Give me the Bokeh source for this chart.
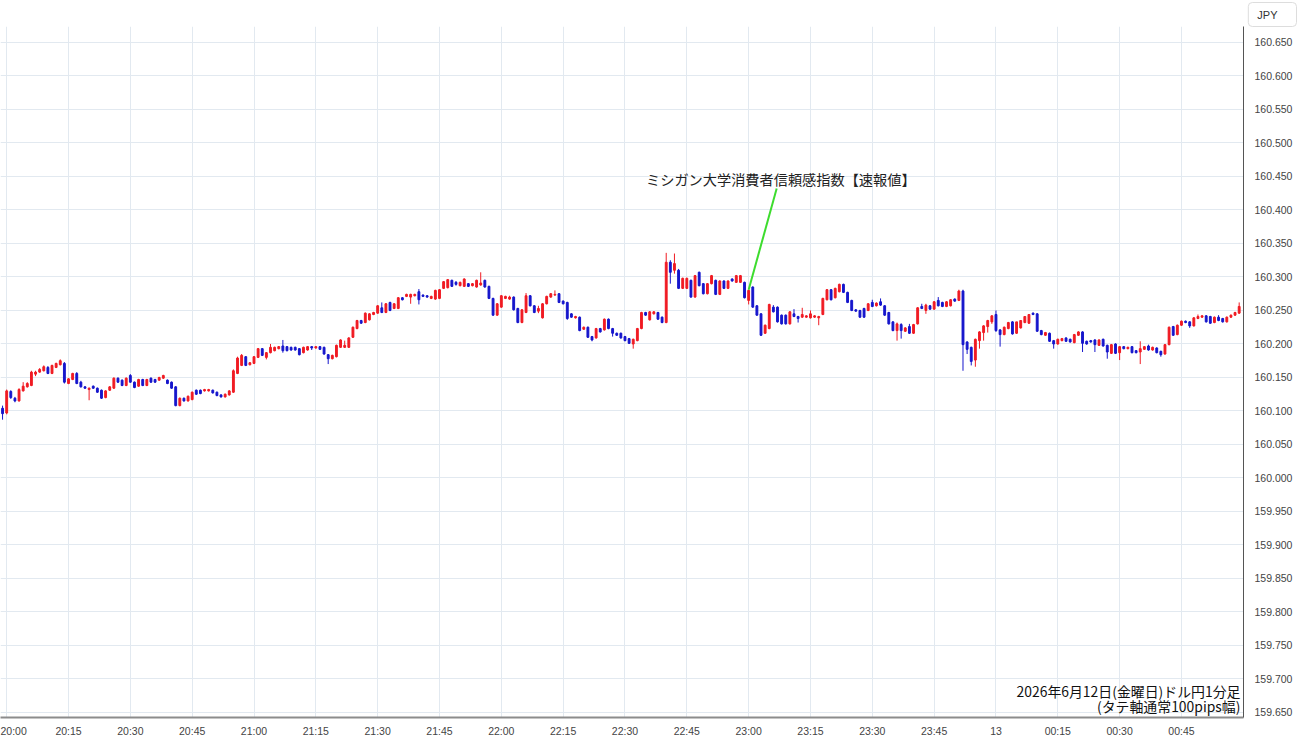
from bokeh.plotting import figure
from bokeh.models import Range1d, FixedTicker, Label, ColumnDataSource, NumeralTickFormatter
from bokeh.embed import file_html
from bokeh.resources import INLINE

# ---- data: USD/JPY 1-minute candles, 2026-06-12 19:59 .. 00:59 (minute index from 20:00) ----
minutes = list(range(-1, 300))

open_ = [
    160.104, 160.097, 160.129, 160.119, 160.115, 160.130, 160.136, 160.138, 160.155, 160.158,
    160.160, 160.165, 160.156, 160.165, 160.169, 160.171, 160.141, 160.147, 160.156, 160.143,
    160.136, 160.132, 160.137, 160.134, 160.131, 160.120, 160.131, 160.134, 160.149, 160.146,
    160.138, 160.153, 160.143, 160.137, 160.147, 160.138, 160.149, 160.147, 160.146, 160.149,
    160.146, 160.143, 160.136, 160.108, 160.119, 160.115, 160.117, 160.131, 160.131, 160.130,
    160.130, 160.131, 160.128, 160.124, 160.121, 160.124, 160.128, 160.156, 160.168, 160.181,
    160.169, 160.171, 160.180, 160.193, 160.180, 160.187, 160.190, 160.193, 160.197, 160.196,
    160.195, 160.195, 160.193, 160.187, 160.191, 160.196, 160.194, 160.196, 160.195, 160.184,
    160.178, 160.181, 160.195, 160.195, 160.195, 160.210, 160.223, 160.235, 160.232, 160.236,
    160.244, 160.246, 160.254, 160.247, 160.262, 160.253, 160.253, 160.269, 160.271, 160.270,
    160.272, 160.278, 160.273, 160.272, 160.268, 160.267, 160.268, 160.283, 160.284, 160.295,
    160.292, 160.287, 160.286, 160.290, 160.287, 160.285, 160.288, 160.295, 160.286, 160.268,
    160.243, 160.255, 160.268, 160.267, 160.270, 160.253, 160.232, 160.247, 160.272, 160.257,
    160.249, 160.239, 160.260, 160.270, 160.273, 160.275, 160.264, 160.262, 160.245, 160.239,
    160.240, 160.222, 160.225, 160.211, 160.209, 160.223, 160.221, 160.237, 160.223, 160.216,
    160.216, 160.211, 160.208, 160.200, 160.205, 160.223, 160.247, 160.236, 160.245, 160.247,
    160.240, 160.232, 160.322, 160.310, 160.310, 160.283, 160.283, 160.295, 160.270, 160.307,
    160.290, 160.275, 160.290, 160.295, 160.274, 160.294, 160.283, 160.297, 160.292, 160.292,
    160.292, 160.265, 160.285, 160.257, 160.245, 160.216, 160.223, 160.255, 160.255, 160.243,
    160.243, 160.230, 160.245, 160.241, 160.240, 160.240, 160.239, 160.240, 160.239, 160.244,
    160.266, 160.281, 160.269, 160.278, 160.289, 160.277, 160.265, 160.251, 160.250, 160.253,
    160.250, 160.262, 160.257, 160.263, 160.257, 160.247, 160.233, 160.220, 160.229, 160.219,
    160.226, 160.216, 160.230, 160.256, 160.250, 160.257, 160.252, 160.265, 160.262, 160.256,
    160.257, 160.267, 160.265, 160.279, 160.203, 160.195, 160.176, 160.205, 160.217, 160.226,
    160.233, 160.244, 160.221, 160.214, 160.223, 160.233, 160.216, 160.224, 160.232, 160.231,
    160.246, 160.245, 160.220, 160.213, 160.216, 160.205, 160.200, 160.205, 160.209, 160.207,
    160.202, 160.213, 160.218, 160.204, 160.205, 160.206, 160.198, 160.207, 160.198, 160.186,
    160.200, 160.187, 160.196, 160.193, 160.196, 160.190, 160.188, 160.192, 160.197, 160.191,
    160.194, 160.189, 160.185, 160.199, 160.226, 160.214, 160.228, 160.234, 160.233, 160.227,
    160.238, 160.240, 160.242, 160.241, 160.232, 160.240, 160.238, 160.233, 160.240, 160.243,
    160.246,
]

high = [
    160.108, 160.132, 160.131, 160.121, 160.134, 160.143, 160.143, 160.160, 160.160, 160.164,
    160.168, 160.167, 160.169, 160.172, 160.177, 160.173, 160.149, 160.157, 160.158, 160.145,
    160.137, 160.135, 160.138, 160.135, 160.132, 160.131, 160.137, 160.150, 160.150, 160.147,
    160.150, 160.155, 160.144, 160.148, 160.148, 160.148, 160.150, 160.148, 160.151, 160.154,
    160.147, 160.144, 160.137, 160.120, 160.120, 160.123, 160.129, 160.132, 160.132, 160.133,
    160.133, 160.132, 160.129, 160.125, 160.126, 160.131, 160.162, 160.181, 160.185, 160.182,
    160.173, 160.182, 160.194, 160.194, 160.188, 160.200, 160.196, 160.197, 160.206, 160.197,
    160.196, 160.196, 160.194, 160.196, 160.197, 160.197, 160.197, 160.197, 160.196, 160.185,
    160.184, 160.199, 160.207, 160.205, 160.210, 160.226, 160.236, 160.236, 160.247, 160.246,
    160.248, 160.258, 160.262, 160.261, 160.263, 160.261, 160.270, 160.270, 160.275, 160.275,
    160.275, 160.282, 160.274, 160.273, 160.272, 160.281, 160.282, 160.294, 160.297, 160.296,
    160.294, 160.293, 160.298, 160.291, 160.291, 160.296, 160.307, 160.296, 160.287, 160.269,
    160.261, 160.273, 160.272, 160.272, 160.271, 160.254, 160.252, 160.276, 160.273, 160.258,
    160.257, 160.261, 160.272, 160.276, 160.280, 160.276, 160.265, 160.263, 160.246, 160.242,
    160.241, 160.226, 160.226, 160.212, 160.224, 160.224, 160.238, 160.238, 160.224, 160.217,
    160.217, 160.212, 160.209, 160.208, 160.224, 160.248, 160.248, 160.249, 160.249, 160.248,
    160.241, 160.336, 160.325, 160.335, 160.312, 160.299, 160.299, 160.296, 160.303, 160.308,
    160.291, 160.291, 160.303, 160.296, 160.295, 160.295, 160.295, 160.298, 160.303, 160.303,
    160.293, 160.281, 160.286, 160.258, 160.246, 160.229, 160.260, 160.258, 160.256, 160.244,
    160.244, 160.249, 160.252, 160.242, 160.254, 160.243, 160.250, 160.243, 160.242, 160.269,
    160.282, 160.282, 160.284, 160.290, 160.290, 160.278, 160.266, 160.252, 160.251, 160.254,
    160.261, 160.266, 160.262, 160.268, 160.258, 160.248, 160.234, 160.232, 160.231, 160.225,
    160.230, 160.230, 160.255, 160.260, 160.260, 160.258, 160.264, 160.270, 160.263, 160.264,
    160.267, 160.268, 160.281, 160.281, 160.204, 160.196, 160.208, 160.219, 160.228, 160.236,
    160.243, 160.250, 160.222, 160.226, 160.233, 160.234, 160.231, 160.234, 160.236, 160.242,
    160.247, 160.246, 160.221, 160.218, 160.217, 160.206, 160.208, 160.209, 160.210, 160.208,
    160.215, 160.219, 160.219, 160.205, 160.206, 160.207, 160.207, 160.208, 160.199, 160.200,
    160.201, 160.197, 160.197, 160.196, 160.197, 160.191, 160.204, 160.197, 160.199, 160.196,
    160.195, 160.190, 160.200, 160.226, 160.227, 160.229, 160.235, 160.235, 160.234, 160.240,
    160.244, 160.243, 160.243, 160.242, 160.241, 160.243, 160.239, 160.241, 160.244, 160.248,
    160.262,
]

low = [
    160.087, 160.095, 160.118, 160.113, 160.114, 160.129, 160.135, 160.137, 160.152, 160.157,
    160.159, 160.155, 160.155, 160.164, 160.168, 160.141, 160.140, 160.146, 160.140, 160.135,
    160.133, 160.116, 160.133, 160.127, 160.118, 160.119, 160.130, 160.133, 160.142, 160.137,
    160.137, 160.142, 160.134, 160.136, 160.137, 160.137, 160.142, 160.142, 160.145, 160.148,
    160.140, 160.133, 160.107, 160.107, 160.114, 160.114, 160.116, 160.124, 160.125, 160.129,
    160.129, 160.126, 160.122, 160.120, 160.120, 160.123, 160.127, 160.155, 160.167, 160.167,
    160.168, 160.170, 160.179, 160.182, 160.177, 160.186, 160.189, 160.192, 160.187, 160.189,
    160.190, 160.190, 160.183, 160.186, 160.190, 160.191, 160.193, 160.191, 160.184, 160.170,
    160.177, 160.180, 160.194, 160.194, 160.194, 160.209, 160.222, 160.230, 160.231, 160.235,
    160.243, 160.245, 160.246, 160.246, 160.249, 160.252, 160.252, 160.265, 160.270, 160.260,
    160.271, 160.259, 160.270, 160.269, 160.267, 160.266, 160.267, 160.282, 160.283, 160.285,
    160.287, 160.286, 160.285, 160.285, 160.286, 160.284, 160.287, 160.284, 160.267, 160.242,
    160.242, 160.254, 160.267, 160.266, 160.250, 160.231, 160.231, 160.246, 160.256, 160.246,
    160.246, 160.238, 160.259, 160.269, 160.272, 160.261, 160.259, 160.236, 160.239, 160.238,
    160.219, 160.221, 160.209, 160.204, 160.208, 160.217, 160.220, 160.222, 160.211, 160.212,
    160.208, 160.204, 160.200, 160.193, 160.204, 160.222, 160.242, 160.235, 160.244, 160.236,
    160.231, 160.231, 160.290, 160.305, 160.282, 160.282, 160.282, 160.269, 160.269, 160.286,
    160.274, 160.274, 160.289, 160.273, 160.273, 160.282, 160.282, 160.293, 160.291, 160.291,
    160.268, 160.259, 160.254, 160.242, 160.212, 160.215, 160.222, 160.247, 160.232, 160.229,
    160.229, 160.229, 160.240, 160.232, 160.239, 160.239, 160.238, 160.239, 160.228, 160.243,
    160.265, 160.265, 160.268, 160.277, 160.276, 160.261, 160.249, 160.248, 160.239, 160.239,
    160.249, 160.255, 160.256, 160.257, 160.242, 160.229, 160.219, 160.205, 160.208, 160.218,
    160.215, 160.215, 160.229, 160.252, 160.245, 160.251, 160.251, 160.256, 160.255, 160.255,
    160.256, 160.263, 160.264, 160.160, 160.185, 160.168, 160.166, 160.193, 160.205, 160.217,
    160.230, 160.218, 160.196, 160.213, 160.222, 160.214, 160.215, 160.223, 160.231, 160.230,
    160.243, 160.218, 160.213, 160.212, 160.203, 160.193, 160.199, 160.204, 160.203, 160.202,
    160.201, 160.212, 160.188, 160.199, 160.202, 160.188, 160.197, 160.196, 160.178, 160.185,
    160.185, 160.176, 160.192, 160.192, 160.186, 160.186, 160.170, 160.191, 160.190, 160.190,
    160.186, 160.181, 160.184, 160.198, 160.212, 160.213, 160.227, 160.231, 160.224, 160.226,
    160.237, 160.239, 160.232, 160.230, 160.231, 160.234, 160.232, 160.232, 160.239, 160.242,
    160.245,
]

close = [
    160.096, 160.130, 160.120, 160.115, 160.132, 160.137, 160.141, 160.158, 160.158, 160.162,
    160.166, 160.156, 160.168, 160.171, 160.175, 160.143, 160.148, 160.156, 160.141, 160.136,
    160.134, 160.134, 160.134, 160.128, 160.119, 160.130, 160.136, 160.149, 160.143, 160.138,
    160.149, 160.143, 160.135, 160.147, 160.138, 160.147, 160.143, 160.143, 160.150, 160.153,
    160.141, 160.134, 160.108, 160.119, 160.115, 160.122, 160.128, 160.125, 160.126, 160.132,
    160.132, 160.127, 160.123, 160.121, 160.125, 160.130, 160.160, 160.179, 160.183, 160.168,
    160.172, 160.181, 160.193, 160.183, 160.187, 160.195, 160.195, 160.196, 160.190, 160.190,
    160.191, 160.191, 160.184, 160.195, 160.196, 160.194, 160.196, 160.192, 160.185, 160.178,
    160.183, 160.198, 160.206, 160.198, 160.209, 160.225, 160.235, 160.231, 160.246, 160.245,
    160.247, 160.257, 160.247, 160.260, 160.250, 160.260, 160.269, 160.266, 160.274, 160.274,
    160.274, 160.266, 160.271, 160.270, 160.271, 160.280, 160.281, 160.293, 160.296, 160.286,
    160.289, 160.292, 160.297, 160.286, 160.290, 160.295, 160.291, 160.285, 160.268, 160.243,
    160.260, 160.272, 160.271, 160.270, 160.251, 160.232, 160.251, 160.272, 160.257, 160.247,
    160.253, 160.260, 160.271, 160.275, 160.274, 160.262, 160.260, 160.238, 160.240, 160.241,
    160.220, 160.225, 160.210, 160.206, 160.223, 160.218, 160.237, 160.223, 160.216, 160.213,
    160.209, 160.205, 160.201, 160.207, 160.223, 160.247, 160.243, 160.248, 160.248, 160.237,
    160.232, 160.322, 160.307, 160.320, 160.283, 160.298, 160.298, 160.270, 160.302, 160.287,
    160.275, 160.290, 160.302, 160.274, 160.294, 160.283, 160.294, 160.294, 160.302, 160.302,
    160.269, 160.280, 160.255, 160.243, 160.213, 160.228, 160.259, 160.248, 160.233, 160.230,
    160.230, 160.248, 160.241, 160.238, 160.244, 160.242, 160.245, 160.242, 160.241, 160.268,
    160.281, 160.266, 160.283, 160.289, 160.277, 160.262, 160.250, 160.249, 160.240, 160.240,
    160.260, 160.256, 160.261, 160.258, 160.243, 160.230, 160.220, 160.230, 160.220, 160.224,
    160.216, 160.229, 160.254, 160.253, 160.258, 160.252, 160.263, 160.257, 160.256, 160.263,
    160.266, 160.264, 160.279, 160.199, 160.192, 160.174, 160.207, 160.218, 160.227, 160.235,
    160.242, 160.220, 160.214, 160.225, 160.232, 160.215, 160.233, 160.235, 160.241, 160.244,
    160.244, 160.219, 160.214, 160.217, 160.204, 160.200, 160.207, 160.208, 160.204, 160.203,
    160.214, 160.218, 160.201, 160.200, 160.203, 160.199, 160.206, 160.197, 160.188, 160.199,
    160.186, 160.196, 160.193, 160.195, 160.187, 160.187, 160.193, 160.196, 160.191, 160.195,
    160.187, 160.184, 160.199, 160.225, 160.213, 160.228, 160.234, 160.232, 160.227, 160.239,
    160.241, 160.242, 160.233, 160.231, 160.240, 160.235, 160.233, 160.240, 160.243, 160.247,
    160.256,
]

tick_minutes = [0, 15, 30, 45, 60, 75, 90, 105, 120, 135, 150, 165, 180, 195, 210, 225, 240, 255, 270, 285]
tick_labels = ["20:00", "20:15", "20:30", "20:45", "21:00", "21:15", "21:30", "21:45", "22:00", "22:15",
               "22:30", "22:45", "23:00", "23:15", "23:30", "23:45", "13", "00:15", "00:30", "00:45"]
price_ticks = [159.65, 159.70, 159.75, 159.80, 159.85, 159.90, 159.95, 160.00, 160.05, 160.10, 160.15,
               160.20, 160.25, 160.30, 160.35, 160.40, 160.45, 160.50, 160.55, 160.60, 160.65]

event_text = "ミシガン大学消費者信頼感指数【速報値】"
event_minute = 180
event_price = 160.281
caption_1 = "2026年6月12日(金曜日)ドル円1分足"
caption_2 = "(タテ軸通常100pips幅)"
currency = "JPY"

RED = "#f01b23"
BLUE = "#1616cc"

colors = [RED if c >= o else BLUE for o, c in zip(open_, close)]
src = ColumnDataSource(dict(
    x=minutes, high=high, low=low,
    top=[max(o, c) for o, c in zip(open_, close)],
    bottom=[min(o, c) for o, c in zip(open_, close)],
    color=colors,
))

FRAME_H = 691
p = figure(frame_width=1243, frame_height=FRAME_H,
           x_range=Range1d(-1.5, 300.05), y_range=Range1d(159.6425, 159.6425 + FRAME_H / 670.0),
           output_backend="svg", toolbar_location=None, y_axis_location="right",
           title=currency,
           min_border_left=0, min_border_top=0, min_border_right=56, min_border_bottom=0)
p.outline_line_color = None
p.background_fill_color = "white"

# currency box (title, top right beside the price axis)
p.title.align = "right"
p.title.offset = -53
p.title.standoff = 0
p.title.text_font = "Liberation Sans"
p.title.text_font_size = "11px"
p.title.text_font_style = "normal"
p.title.text_color = "#333333"
p.title.background_fill_color = "white"
p.title.border_line_color = "#dddddd"
p.title.padding = dict(left=9, right=19, top=6, bottom=6)
p.title.border_radius = 4

# grid
p.xgrid.ticker = FixedTicker(ticks=tick_minutes)
p.ygrid.ticker = FixedTicker(ticks=price_ticks)
p.grid.grid_line_color = "#e2e9f0"
p.grid.grid_line_width = 1

# x axis
xa = p.xaxis[0]
xa.ticker = FixedTicker(ticks=tick_minutes)
xa.major_label_overrides = {m: t for m, t in zip(tick_minutes, tick_labels)}
xa.major_tick_line_color = None
xa.minor_tick_line_color = None
xa.major_tick_out = 0
xa.major_tick_in = 0
xa.minor_tick_out = 0
xa.axis_line_color = "#8c8c8c"
xa.axis_line_width = 2
xa.major_label_text_font = "Liberation Sans"
xa.major_label_text_font_size = "10.5px"
xa.major_label_text_color = "#444444"
xa.major_label_standoff = 7

# y axis (right)
ya = p.yaxis[0]
ya.ticker = FixedTicker(ticks=price_ticks)
ya.formatter = NumeralTickFormatter(format="0.000")
ya.major_tick_line_color = None
ya.minor_tick_line_color = None
ya.major_tick_out = 0
ya.major_tick_in = 0
ya.minor_tick_out = 0
ya.axis_line_color = "#555555"
ya.axis_line_width = 1
ya.major_label_text_font = "Liberation Sans"
ya.major_label_text_font_size = "10.5px"
ya.major_label_text_color = "#444444"
ya.major_label_standoff = 11

# candles
p.segment(x0="x", y0="low", x1="x", y1="high", source=src, line_color="color", line_width=1)
p.vbar(x="x", width=0.45, top="top", bottom="bottom", source=src,
       fill_color="color", line_color="color", line_width=1)

# event annotation
p.line([event_minute, 186.8], [event_price, 160.432], line_color="#3ddc2e", line_width=2)
p.add_layout(Label(x=187.8, y=160.4455, text=event_text, text_align="center", text_baseline="middle",
                   text_font="Noto Sans CJK JP", text_font_size="14.2px", text_color="#222222"))

# captions bottom-right
p.add_layout(Label(x=299.3, y=159.6665, text=caption_1, text_align="right", text_baseline="bottom",
                   text_font="Noto Sans CJK JP", text_font_size="13.9px", text_color="#111111"))
p.add_layout(Label(x=299.3, y=159.6440, text=caption_2, text_align="right", text_baseline="bottom",
                   text_font="Noto Sans CJK JP", text_font_size="13.9px", text_color="#111111"))

open("out.html", "w").write(file_html(p, INLINE))
